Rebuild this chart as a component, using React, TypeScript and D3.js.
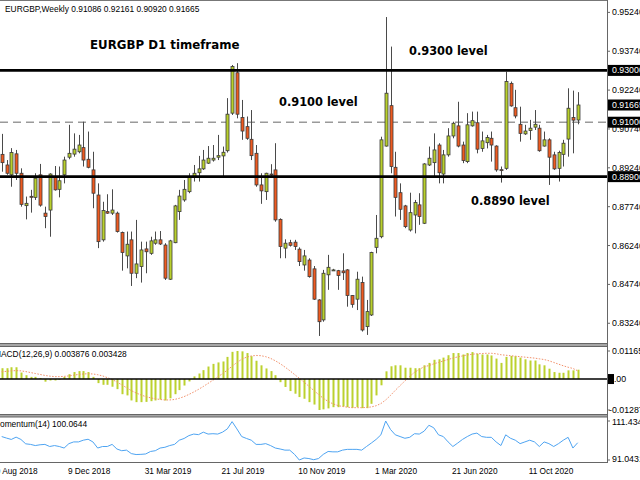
import React from "react";
import * as d3 from "d3";

// ---- data (weekly EURGBP, first bar = week of 2 Sep 2018) ----
const startDate = new Date(2018, 8, 2);
const opens = [
  0.8976, 0.8935, 0.8897, 0.8978, 0.8903, 0.8778, 0.8814, 0.8810, 0.8897, 0.8749,
  0.8761, 0.8890, 0.8841, 0.8897, 0.8965, 0.8977, 0.8986, 0.9002, 0.8957, 0.8916,
  0.8819, 0.8646, 0.8755, 0.8749, 0.8749, 0.8674, 0.8584, 0.8646, 0.8517, 0.8543,
  0.8611, 0.8594, 0.8633, 0.8646, 0.8626, 0.8494, 0.8635, 0.8755, 0.8800, 0.8832,
  0.8890, 0.8905, 0.8920, 0.8942, 0.8954, 0.8965, 0.8970, 0.8990, 0.9135, 0.9291,
  0.9118, 0.9083, 0.9034, 0.8980, 0.8858, 0.8832, 0.8900, 0.8916, 0.8725, 0.8614,
  0.8635, 0.8637, 0.8610, 0.8549, 0.8568, 0.8534, 0.8414, 0.8337, 0.8511, 0.8530,
  0.8527, 0.8526, 0.8530, 0.8431, 0.8417, 0.8481, 0.8311, 0.8356, 0.8617, 0.8658,
  0.9008, 0.9164, 0.8926, 0.8828, 0.8777, 0.8684, 0.8742, 0.8781, 0.8710, 0.8935,
  0.8944, 0.9012, 0.8900, 0.8974, 0.9047, 0.9086, 0.9012, 0.8948, 0.9086, 0.9098,
  0.8999, 0.9021, 0.9038, 0.9008, 0.8917, 0.8922, 0.9250, 0.9156, 0.9092, 0.9055,
  0.9068, 0.9081, 0.9077, 0.9008, 0.9032, 0.8974, 0.8922, 0.8976, 0.9035, 0.9118,
  0.91086,
];
const highs = [
  0.9055, 0.8954, 0.9000, 0.8993, 0.8922, 0.8813, 0.8839, 0.8903, 0.8939, 0.8774,
  0.8903, 0.8931, 0.8929, 0.8967, 0.9090, 0.9057, 0.9051, 0.9102, 0.9064, 0.8986,
  0.8864, 0.8793, 0.8822, 0.8841, 0.8755, 0.8678, 0.8678, 0.8678, 0.8723, 0.8639,
  0.8639, 0.8658, 0.8678, 0.8680, 0.8633, 0.8646, 0.8781, 0.8839, 0.8877, 0.8903,
  0.8935, 0.8970, 0.8993, 0.9008, 0.9012, 0.9051, 0.9006, 0.9193, 0.9321, 0.9328,
  0.9186, 0.9122, 0.9147, 0.9012, 0.8903, 0.8905, 0.8938, 0.9019, 0.8729, 0.8648,
  0.8646, 0.8646, 0.8617, 0.8607, 0.8575, 0.8545, 0.8417, 0.8530, 0.8588, 0.8534,
  0.8530, 0.8594, 0.8533, 0.8433, 0.8523, 0.8504, 0.8414, 0.8600, 0.8742, 0.9044,
  0.9506, 0.9392, 0.8986, 0.8864, 0.8781, 0.8828, 0.8800, 0.8826, 0.8942, 0.9006,
  0.9057, 0.9019, 0.8993, 0.9077, 0.9102, 0.9179, 0.9025, 0.9135, 0.9141, 0.9141,
  0.9064, 0.9051, 0.9064, 0.9011, 0.8929, 0.9295, 0.9257, 0.9225, 0.9160, 0.9090,
  0.9109, 0.9147, 0.9090, 0.9064, 0.9038, 0.8986, 0.8990, 0.9032, 0.9231, 0.9222,
  0.92161,
];
const lows = [
  0.8909, 0.8897, 0.8851, 0.8877, 0.8774, 0.8725, 0.8751, 0.8800, 0.8774, 0.8691,
  0.8658, 0.8836, 0.8810, 0.8864, 0.8957, 0.8967, 0.8980, 0.8929, 0.8922, 0.8768,
  0.8614, 0.8639, 0.8746, 0.8742, 0.8674, 0.8527, 0.8536, 0.8468, 0.8498, 0.8481,
  0.8517, 0.8588, 0.8627, 0.8626, 0.8491, 0.8491, 0.8633, 0.8723, 0.8793, 0.8826,
  0.8871, 0.8871, 0.8916, 0.8939, 0.8948, 0.8954, 0.8890, 0.8983, 0.9128, 0.9115,
  0.9032, 0.9032, 0.8954, 0.8851, 0.8785, 0.8800, 0.8893, 0.8716, 0.8575, 0.8575,
  0.8620, 0.8607, 0.8545, 0.8527, 0.8500, 0.8414, 0.8275, 0.8330, 0.8453, 0.8526,
  0.8453, 0.8491, 0.8388, 0.8384, 0.8375, 0.8292, 0.8279, 0.8352, 0.8594, 0.8652,
  0.9006, 0.8903, 0.8736, 0.8723, 0.8691, 0.8678, 0.8671, 0.8704, 0.8707, 0.8931,
  0.8890, 0.8864, 0.8864, 0.8967, 0.9038, 0.9003, 0.8942, 0.8942, 0.9083, 0.8980,
  0.8986, 0.8999, 0.8948, 0.8909, 0.8867, 0.8916, 0.9160, 0.9115, 0.9025, 0.9051,
  0.9032, 0.9070, 0.8986, 0.9006, 0.8858, 0.8916, 0.8871, 0.8929, 0.8967, 0.8980,
  0.90920,
];
const closes = [
  0.8944, 0.8903, 0.8983, 0.8903, 0.8783, 0.8787, 0.8812, 0.8884, 0.8780, 0.8736,
  0.8900, 0.8839, 0.8874, 0.8954, 0.8980, 0.8996, 0.9012, 0.8954, 0.8926, 0.8826,
  0.8639, 0.8759, 0.8749, 0.8761, 0.8678, 0.8597, 0.8629, 0.8517, 0.8553, 0.8607,
  0.8600, 0.8642, 0.8646, 0.8630, 0.8498, 0.8642, 0.8777, 0.8815, 0.8841, 0.8890,
  0.8903, 0.8920, 0.8954, 0.8961, 0.8961, 0.8971, 0.8984, 0.9131, 0.9315, 0.9131,
  0.9066, 0.9038, 0.8971, 0.8858, 0.8835, 0.8903, 0.8897, 0.8723, 0.8620, 0.8633,
  0.8625, 0.8620, 0.8562, 0.8584, 0.8504, 0.8417, 0.8330, 0.8517, 0.8540, 0.8530,
  0.8508, 0.8519, 0.8431, 0.8397, 0.8494, 0.8298, 0.8369, 0.8597, 0.8652, 0.9032,
  0.9212, 0.8929, 0.8810, 0.8764, 0.8697, 0.8751, 0.8790, 0.8736, 0.8939, 0.8961,
  0.8993, 0.8905, 0.8974, 0.9047, 0.9096, 0.9008, 0.8952, 0.9090, 0.9106, 0.8996,
  0.9028, 0.9041, 0.9012, 0.8916, 0.8915, 0.9257, 0.9163, 0.9124, 0.9057, 0.9066,
  0.9077, 0.9092, 0.8990, 0.9032, 0.8965, 0.8920, 0.8983, 0.9019, 0.9154, 0.9108,
  0.91665,
];
const macdMain = [
  0.0045, 0.0045, 0.0049, 0.0049, 0.0027, 0.0016, 0.0009, 0.0009, 0.0004, -0.0011,
  -0.0006, -0.0006, -0.0003, 0.0009, 0.0020, 0.0029, 0.0033, 0.0033, 0.0029, 0.0009,
  -0.0017, -0.0024, -0.0024, -0.0032, -0.0042, -0.0063, -0.0068, -0.0089, -0.0096, -0.0096,
  -0.0095, -0.0092, -0.0089, -0.0085, -0.0089, -0.0080, -0.0063, -0.0046, -0.0027, -0.0010,
  0.0011, 0.0023, 0.0037, 0.0052, 0.0063, 0.0069, 0.0073, 0.0092, 0.0113, 0.01165,
  0.0115, 0.0108, 0.0095, 0.0076, 0.0057, 0.0044, 0.0033, 0.0016, -0.0013, -0.0033,
  -0.0050, -0.0061, -0.0075, -0.0082, -0.0096, -0.0106, -0.01287, -0.0126, -0.0122, -0.0117,
  -0.0117, -0.0114, -0.0117, -0.0120, -0.0117, -0.0121, -0.0121, -0.0103, -0.0068, -0.0026,
  0.0032, 0.0053, 0.0057, 0.0057, 0.0047, 0.0047, 0.0045, 0.0045, 0.0057, 0.0067,
  0.0080, 0.0082, 0.0089, 0.0099, 0.0108, 0.0108, 0.0102, 0.0108, 0.0112, 0.0105,
  0.0102, 0.0102, 0.0098, 0.0085, 0.0067, 0.0092, 0.0096, 0.0095, 0.0089, 0.0082,
  0.0077, 0.0077, 0.0061, 0.0057, 0.0043, 0.0029, 0.0026, 0.0026, 0.0036, 0.0036,
  0.003876,
];
const macdSignal = [
  0.0030, 0.0032, 0.0034, 0.0035, 0.0034, 0.0031, 0.0027, 0.0023, 0.0019, 0.0015,
  0.0012, 0.0010, 0.0010, 0.0011, 0.0013, 0.0016, 0.0019, 0.0021, 0.0022, 0.0021,
  0.0018, 0.0013, 0.0006, -0.0002, -0.0012, -0.0024, -0.0036, -0.0048, -0.0058, -0.0066,
  -0.0073, -0.0078, -0.0082, -0.0085, -0.0087, -0.0087, -0.0085, -0.0080, -0.0073, -0.0064,
  -0.0054, -0.0043, -0.0031, -0.0018, -0.0005, 0.0009, 0.0022, 0.0037, 0.0053, 0.0069,
  0.0082, 0.0091, 0.0096, 0.0098, 0.0097, 0.0093, 0.0086, 0.0076, 0.0064, 0.0050,
  0.0035, 0.0019, 0.0003, -0.0013, -0.0030, -0.0047, -0.0064, -0.0080, -0.0093, -0.0103,
  -0.0110, -0.0114, -0.0117, -0.0119, -0.0119, -0.0119, -0.0118, -0.0116, -0.0111, -0.0102,
  -0.0087, -0.0068, -0.0047, -0.0027, -0.0008, 0.0011, 0.0028, 0.0040, 0.0051, 0.0056,
  0.0063, 0.0069, 0.0075, 0.0081, 0.0087, 0.0092, 0.0096, 0.0100, 0.0103, 0.0105,
  0.0106, 0.0107, 0.0107, 0.0105, 0.0101, 0.0099, 0.0097, 0.0095, 0.0093, 0.0091,
  0.0089, 0.0087, 0.0084, 0.0081, 0.0076, 0.0069, 0.0062, 0.0055, 0.0049, 0.0044,
  0.003428,
];
const momentum = [
  103.3, 102.5, 101.8, 103.0, 101.8, 99.5, 99.2, 98.6, 99.0, 99.2,
  98.1, 98.6, 98.1, 97.3, 99.6, 100.5, 100.5, 101.4, 101.9, 100.5,
  97.3, 98.1, 98.1, 99.2, 96.8, 95.9, 96.2, 94.4, 93.9, 94.0,
  94.2, 95.5, 95.9, 97.3, 97.7, 98.6, 99.2, 101.4, 102.3, 103.8,
  104.6, 104.3, 105.6, 104.6, 104.8, 104.6, 105.6, 107.3, 111.1, 107.3,
  103.3, 102.3, 101.4, 99.2, 99.2, 99.6, 98.6, 97.3, 96.8, 96.2,
  96.2, 94.0, 91.0431, 92.1, 91.8, 91.2, 91.8, 94.0, 95.5, 95.3,
  95.3, 96.2, 96.6, 96.6, 96.6, 96.2, 98.1, 99.9, 101.8, 104.2,
  111.434, 107.0, 104.2, 103.3, 102.4, 102.9, 104.8, 104.6, 106.1, 109.2,
  107.9, 104.2, 103.3, 100.5, 98.1, 99.9, 101.8, 103.3, 104.6, 105.1,
  103.3, 102.9, 102.9, 100.5, 98.6, 104.2, 102.4, 101.4, 99.6, 100.5,
  101.4, 100.5, 98.1, 100.5, 99.6, 98.1, 99.6, 101.4, 102.9, 97.3,
  100.0644,
];
const priceTicks = [0.9524, 0.9374, 0.9224, 0.9074, 0.8924, 0.8774, 0.8624, 0.8474, 0.8324];
const solidLevels = [0.93, 0.889];
const dashedLevels = [0.91];
const boxedPrices = [0.93, 0.91665, 0.91, 0.889];
const macdTicks = [0.01165, -0.01287];
const momTicks = [111.434, 91.0431];
const dateTickBars = [-2, 14, 30, 46, 62, 78, 94, 110];
const headerText = "EURGBP,Weekly  0.91086 0.92161 0.90920 0.91665";
const macdTitle = "MACD(12,26,9) 0.003876 0.003428";
const momTitle = "Momentum(14) 100.0644";
const chartTitle = "EURGBP D1 timeframe";
const levelNotes = ["0.9300 level", "0.9100 level", "0.8890 level"];

const bull = "#b9d02c";
const bear = "#ef5a20";
const outline = "#3a3a3a";
const wickCol = "#4a4a4a";

export default function App() {
  const n = closes.length;
  const AX = 607;
  const x = d3.scaleLinear().domain([0, n - 1]).range([1.7, 577.7]);
  const py = d3.scaleLinear().domain([0.82478, 0.95718]).range([343, 0]);
  const my = d3.scaleLinear().domain([-0.01287, 0.01165]).range([410, 351]);
  const qy = d3.scaleLinear().domain([91.0431, 111.434]).range([460, 421]);
  const fmt5 = d3.format(".5f");
  const dateFmt = d3.timeFormat("%-d %b %Y");

  const sigLine = d3.line<number>().x((_, i) => x(i)).y((d) => my(d))(macdSignal) || "";
  const momLine = d3.line<number>().x((_, i) => x(i)).y((d) => qy(d))(momentum) || "";
  const small = "Liberation Sans, Arial, sans-serif";
  const bold = "DejaVu Sans, Verdana, sans-serif";

  return (
    <svg width={640} height={480} style={{ position: "absolute", left: 0, top: 0, background: "#fff" }} fontFamily={small}>
      <rect x={0} y={0} width={640} height={480} fill="#fff" />
      {/* frames */}
      <line x1={0} x2={AX} y1={0.5} y2={0.5} stroke="#777" />
      <rect x={0} y={343} width={AX} height={4} fill="#a6a6a6" />
      <line x1={0} x2={AX} y1={343.5} y2={343.5} stroke="#666" />
      <line x1={0} x2={AX} y1={346.5} y2={346.5} stroke="#666" />
      <rect x={0} y={414} width={AX} height={3} fill="#a6a6a6" />
      <line x1={0} x2={AX} y1={414.5} y2={414.5} stroke="#666" />
      <line x1={0} x2={AX} y1={417} y2={417} stroke="#666" />
      <line x1={0} x2={AX} y1={462.5} y2={462.5} stroke="#666" />
      <line x1={AX + 0.5} x2={AX + 0.5} y1={0} y2={463} stroke="#666" />

      {/* header */}
      <text x={5} y={11.5} fontSize={8.4} fill="#000">{headerText}</text>

      {/* price level lines */}
      {dashedLevels.map((v) => (
        <line key={"d" + v} x1={0} x2={AX} y1={py(v)} y2={py(v)} stroke="#9a9a9a" strokeWidth={1.4} strokeDasharray="8 5" />
      ))}

      {/* candles */}
      {closes.map((c, i) => {
        const o = opens[i];
        const up = c >= o;
        const cx = Math.round(x(i));
        const yT = py(Math.max(o, c));
        const yB = py(Math.min(o, c));
        return (
          <g key={"c" + i}>
            <line x1={cx + 0.5} x2={cx + 0.5} y1={py(highs[i])} y2={py(lows[i])} stroke={wickCol} strokeWidth={1} />
            <rect x={cx - 1} y={yT} width={3} height={Math.max(1, yB - yT)} fill={up ? bull : bear} stroke={outline} strokeWidth={0.8} />
          </g>
        );
      })}

      {solidLevels.map((v) => (
        <line key={"s" + v} x1={0} x2={AX} y1={py(v)} y2={py(v)} stroke="#000" strokeWidth={2.8} />
      ))}

      {/* annotations */}
      <text x={90} y={48.5} fontSize={11.8} fontWeight="bold" fontFamily={bold}>{chartTitle}</text>
      <text x={409} y={54.5} fontSize={11.4} fontWeight="bold" fontFamily={bold}>{levelNotes[0]}</text>
      <text x={279} y={106} fontSize={11.4} fontWeight="bold" fontFamily={bold}>{levelNotes[1]}</text>
      <text x={471} y={204.5} fontSize={11.4} fontWeight="bold" fontFamily={bold}>{levelNotes[2]}</text>

      {/* price axis */}
      {priceTicks.map((v) => (
        <g key={"t" + v}>
          <line x1={AX} x2={AX + 3} y1={py(v)} y2={py(v)} stroke="#666" />
          <text x={612} y={py(v)} dy="0.35em" fontSize={8.8}>{fmt5(v)}</text>
        </g>
      ))}
      {boxedPrices.map((v) => (
        <g key={"b" + v}>
          <rect x={608} y={py(v) - 5.5} width={32} height={11} fill="#000" />
          <text x={612} y={py(v)} dy="0.35em" fontSize={8.8} fill="#fff">{fmt5(v)}</text>
        </g>
      ))}

      {/* MACD */}
      <text x={-6} y={357} fontSize={8.4}>{macdTitle}</text>
      {macdMain.map((v, i) => {
        const cx = Math.round(x(i));
        const y0 = my(0);
        const y1 = my(v);
        return <rect key={"m" + i} x={cx - 0.5} y={Math.min(y0, y1)} width={2} height={Math.abs(y1 - y0)} fill="#bcd12e" />;
      })}
      <path d={sigLine} fill="none" stroke="#f2906a" strokeWidth={1} strokeDasharray="1.5 1.5" />
      <line x1={0} x2={AX} y1={my(0)} y2={my(0)} stroke="#000" strokeWidth={1.4} />
      {macdTicks.map((v) => (
        <g key={"mt" + v}>
          <line x1={AX} x2={AX + 3} y1={my(v)} y2={my(v)} stroke="#666" />
          <text x={v < 0 ? 609 : 612} y={my(v)} dy="0.35em" fontSize={8.8}>{v.toFixed(5)}</text>
        </g>
      ))}
      <rect x={608} y={my(0) - 5} width={6} height={10} fill="#000" />
      <text x={609} y={my(0)} dy="0.35em" fontSize={8.8}>0.00</text>

      {/* Momentum */}
      <text x={-7} y={426.5} fontSize={8.4}>{momTitle}</text>
      <path d={momLine} fill="none" stroke="#4ea4f2" strokeWidth={1} />
      {momTicks.map((v) => (
        <g key={"q" + v}>
          <line x1={AX} x2={AX + 3} y1={qy(v)} y2={qy(v)} stroke="#666" />
          <text x={612} y={qy(v) + (v > 100 ? 1 : -1.5)} dy="0.35em" fontSize={8.8}>{String(v)}</text>
        </g>
      ))}

      {/* date axis */}
      {dateTickBars.map((b) => (
        <text key={"dt" + b} x={x(b) - 1} y={474} fontSize={8.3}>
          {dateFmt(d3.timeWeek.offset(startDate, b))}
        </text>
      ))}
    </svg>
  );
}
